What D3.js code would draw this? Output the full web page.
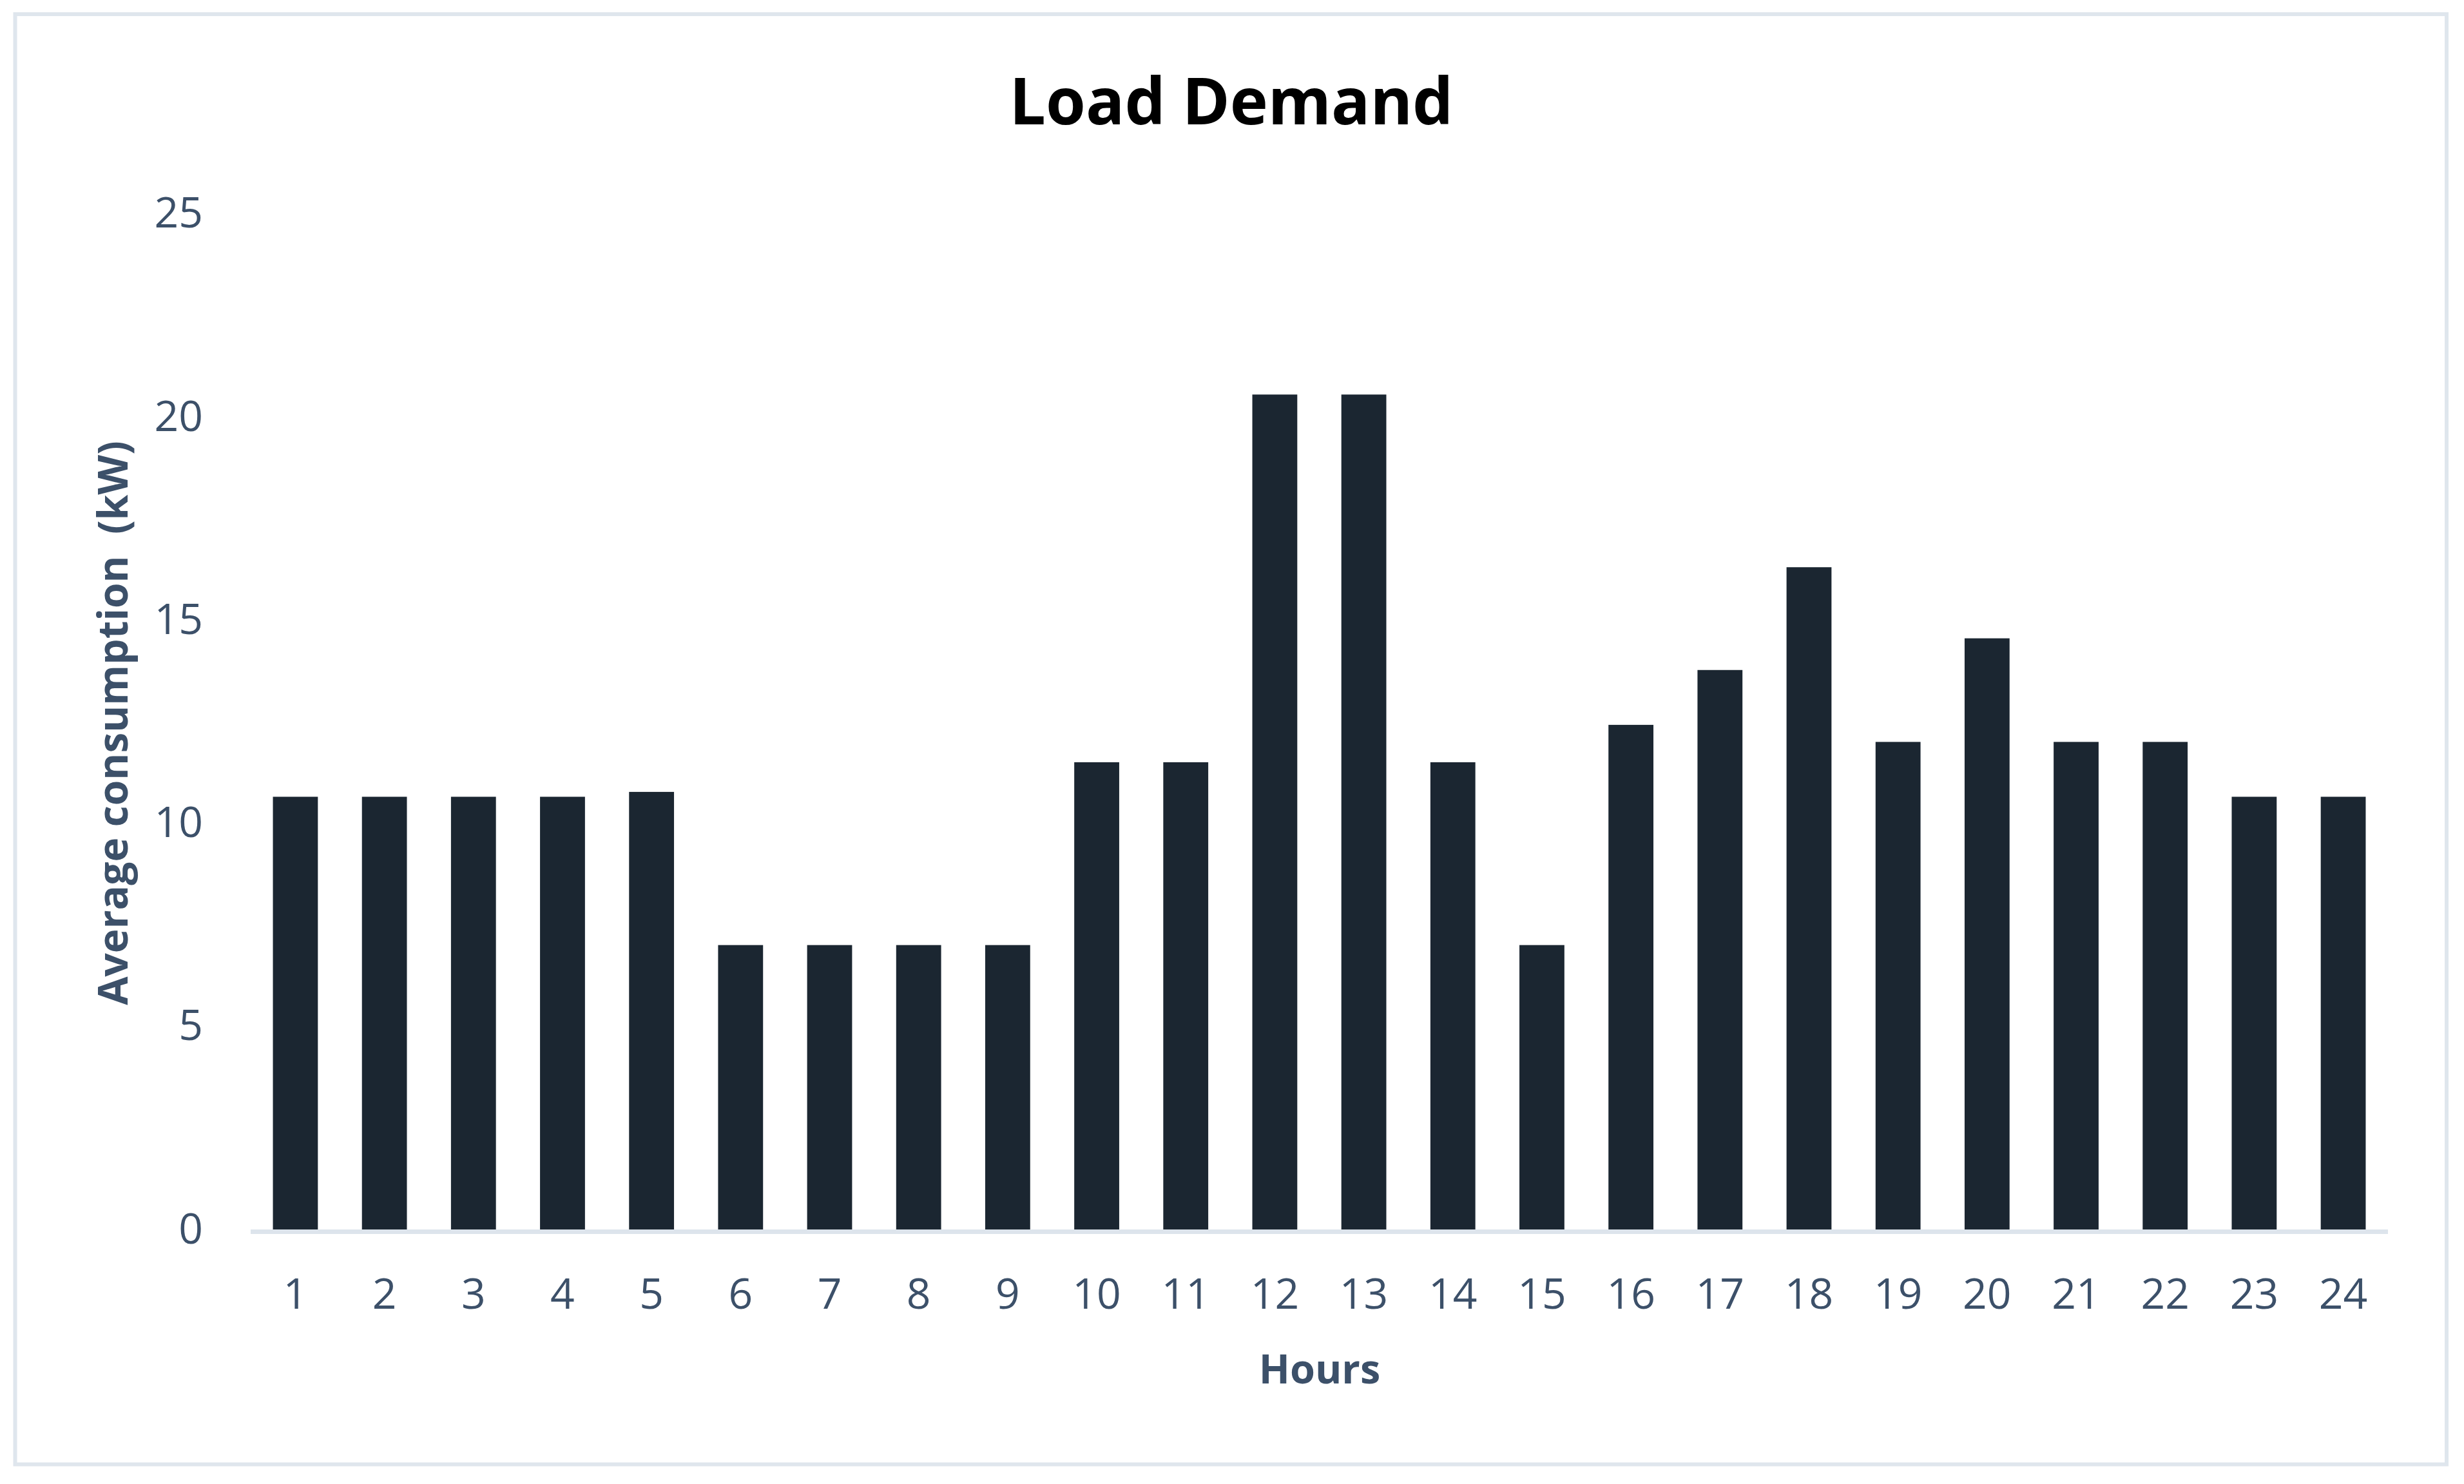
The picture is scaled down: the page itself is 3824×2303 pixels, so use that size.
<!DOCTYPE html>
<html>
<head>
<meta charset="utf-8">
<script src="https://cdn.jsdelivr.net/npm/d3@7"></script>
<style>
  html, body { margin: 0; padding: 0; background: #ffffff; }
  svg { display: block; }
</style>
</head>
<body>
<svg id="chart" width="3824" height="2303"></svg>
<script>
// ---- data ----
const hours = ["1","2","3","4","5","6","7","8","9","10","11","12","13","14","15","16","17","18","19","20","21","22","23","24"];
const consumption = [10.65,10.65,10.65,10.65,10.77,7,7,7,7,11.5,11.5,20.55,20.55,11.5,7,12.42,13.77,16.3,12.0,14.55,12.0,12.0,10.65,10.65];
const yTicks = [0,5,10,15,20,25];
const titleText = "Load Demand";
const xTitle = "Hours";
const yTitle = "Average consumption  (kW)";

// ---- layout ----
const W = 3824, H = 2303;
const plot = { left: 389, right: 3706, bottom: 1908, top: 331.7 };
const textColor = "#3c5069";
const barColor = "#1b2631";
const lineColor = "#dde4ec";
const font = "'Open Sans', 'Noto Sans', sans-serif";

const svg = d3.select("#chart");

svg.append("rect").attr("x", 0).attr("y", 0).attr("width", W).attr("height", H).attr("fill", "#ffffff");

// outer frame
svg.append("rect")
  .attr("x", 23.5).attr("y", 22)
  .attr("width", 3773.5).attr("height", 2250.5)
  .attr("fill", "none").attr("stroke", "#dfe6ed").attr("stroke-width", 6);

const x = d3.scaleBand().domain(hours).range([plot.left, plot.right]).paddingInner(0.495).paddingOuter(0.25);
const y = d3.scaleLinear().domain([0, 25]).range([plot.bottom, plot.top]);

// bars
svg.append("g").selectAll("rect").data(consumption).join("rect")
  .attr("x", (d, i) => x(hours[i]))
  .attr("y", d => y(d))
  .attr("width", x.bandwidth())
  .attr("height", d => y(0) - y(d))
  .attr("fill", barColor);

// x axis line
svg.append("line")
  .attr("x1", plot.left).attr("x2", plot.right)
  .attr("y1", plot.bottom + 3.5).attr("y2", plot.bottom + 3.5)
  .attr("stroke", lineColor).attr("stroke-width", 7);

// x axis labels
const gx = svg.append("g").attr("transform", `translate(0,${plot.bottom})`)
  .call(d3.axisBottom(x).tickSize(0).tickPadding(76));
gx.select(".domain").remove();
gx.selectAll("text").attr("font-family", font).attr("font-size", 66).attr("fill", textColor);

// y axis labels
const gy = svg.append("g").attr("transform", `translate(${plot.left},0)`)
  .call(d3.axisLeft(y).tickValues(yTicks).tickSize(0).tickPadding(74));
gy.select(".domain").remove();
gy.selectAll("text").attr("font-family", font).attr("font-size", 66).attr("fill", textColor);

// title
svg.append("text")
  .attr("x", 1911).attr("y", 193)
  .attr("text-anchor", "middle")
  .attr("font-family", font).attr("font-weight", 700).attr("font-size", 100)
  .attr("fill", "#000000")
  .text(titleText);

// x title
svg.append("text")
  .attr("x", 2048).attr("y", 2147)
  .attr("text-anchor", "middle")
  .attr("font-family", font).attr("font-weight", 700).attr("font-size", 63)
  .attr("fill", textColor)
  .text(xTitle);

// y title
svg.append("text")
  .attr("transform", `translate(198,1122) rotate(-90)`)
  .attr("text-anchor", "middle")
  .attr("font-family", font).attr("font-weight", 700).attr("font-size", 64)
  .attr("fill", textColor)
  .style("white-space", "pre")
  .text(yTitle);
</script>
</body>
</html>
